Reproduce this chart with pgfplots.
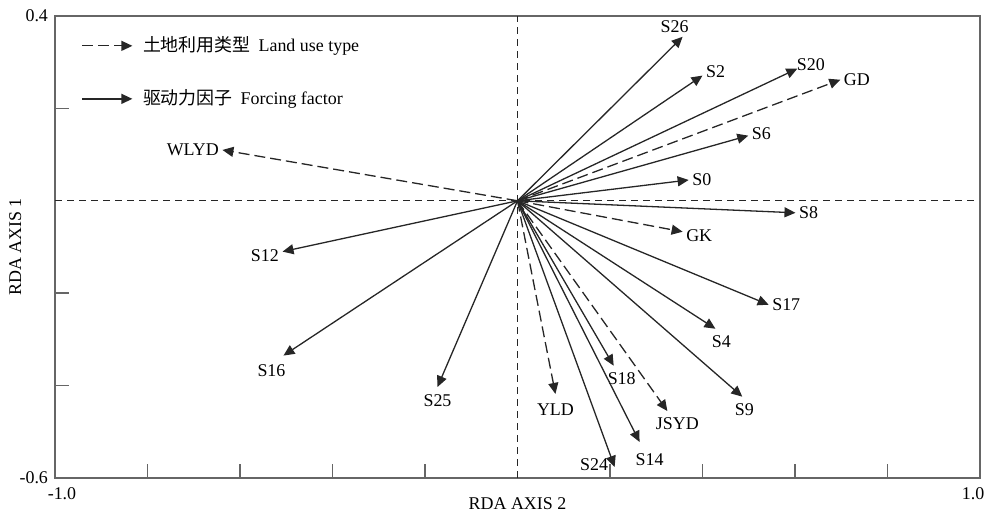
\documentclass[border=0pt]{standalone}
\usepackage{fontspec}
\setmainfont{Liberation Serif}
\newfontfamily\cjk{Noto Sans CJK SC}
\usepackage{pgfplots}
\pgfplotsset{compat=1.18}
\usetikzlibrary{arrows.meta}

\tikzset{
 forc/.style={line width=0.65bp, black!85, -{Triangle[length=5.5bp,width=5bp]}},
 land/.style={forc, dash pattern=on 5.5bp off 2.5bp},
 lab/.style={font=\fontsize{9}{10}\selectfont, inner sep=1.5bp, text=black}
}

\begin{document}
\begin{tikzpicture}
\useasboundingbox (0,0) rectangle (493.5bp,258bp);
\begin{axis}[
 at={(27.5bp,19bp)}, anchor=south west,
 scale only axis, width=462.5bp, height=231bp,
 xmin=-1, xmax=1, ymin=-0.6, ymax=0.4,
 xtick={-1,-0.8,-0.6,-0.4,-0.2,0.2,0.4,0.6,0.8,1},
 xticklabels={\mbox{\hspace{7bp}-1.0},,,,,,,,,\mbox{1.0\hspace{7bp}}},
 ytick={-0.6,-0.4,-0.2,0.2,0.4},
 yticklabels={\mbox{-0.6},,,,\mbox{0.4}},
 tick align=inside, tick pos=left,
 major tick length=7bp,
 axis line style={black!60, line width=1bp},
 every tick/.style={black!60, line width=0.8bp},
 tick label style={font=\fontsize{9}{10}\selectfont},
 xticklabel style={yshift=-1.5bp},
 xlabel={RDA AXIS 2}, ylabel={RDA AXIS 1},
 label style={font=\fontsize{9}{10}\selectfont},
 xlabel style={at={(axis description cs:0.5,-0.056)}, anchor=center},
 ylabel style={at={(axis description cs:-0.043,0.5)}, anchor=center},
 legend image code/.code={\draw[#1] (0bp,0bp) -- (25bp,0bp);},
 legend style={at={(axis description cs:0.022,0.973)}, anchor=north west, draw=none, fill=none,
   font=\fontsize{9}{10}\selectfont, row sep=13.5bp},
 legend cell align=left,
 clip=false,
]
\addlegendimage{land}
\addlegendentry{\hspace{3bp}{\cjk 土地利用类型}\hspace{4bp}Land use type}
\addlegendimage{forc}
\addlegendentry{\hspace{3bp}{\cjk 驱动力因子}\hspace{4bp}Forcing factor}

\draw[black!85, line width=0.5bp, dash pattern=on 3.5bp off 2.5bp] (axis cs:0,-0.6) -- (axis cs:0,0.4);
\draw[black!85, line width=0.5bp, dash pattern=on 3.5bp off 2.5bp] (axis cs:-1,0) -- (axis cs:0.99,0);

% land use types (dashed)
\addplot[land, forget plot] coordinates {(0,0) (0.698,0.262)} node[pos=1, lab, anchor=west]{GD};
\addplot[land, forget plot] coordinates {(0,0) (0.357,-0.067)} node[pos=1, lab, anchor=west, yshift=-2bp]{GK};
\addplot[land, forget plot] coordinates {(0,0) (0.324,-0.455)} node[pos=1, lab, anchor=north, xshift=5bp, yshift=-1.5bp]{JSYD};
\addplot[land, forget plot] coordinates {(0,0) (0.082,-0.418)} node[pos=1, lab, anchor=north, yshift=-3bp]{YLD};
\addplot[land, forget plot] coordinates {(0,0) (-0.638,0.110)} node[pos=1, lab, anchor=east]{WLYD};

% forcing factors (solid)
\addplot[forc, forget plot] coordinates {(0,0) (0.357,0.355)} node[pos=1, lab, anchor=south, xshift=-4bp]{S26};
\addplot[forc, forget plot] coordinates {(0,0) (0.400,0.271)} node[pos=1, lab, anchor=west, yshift=2bp]{S2};
\addplot[forc, forget plot] coordinates {(0,0) (0.605,0.286)} node[pos=1, lab, anchor=south west, xshift=-2bp, yshift=-3bp]{S20};
\addplot[forc, forget plot] coordinates {(0,0) (0.499,0.141)} node[pos=1, lab, anchor=west, yshift=1bp]{S6};
\addplot[forc, forget plot] coordinates {(0,0) (0.370,0.045)} node[pos=1, lab, anchor=west]{S0};
\addplot[forc, forget plot] coordinates {(0,0) (0.601,-0.026)} node[pos=1, lab, anchor=west]{S8};
\addplot[forc, forget plot] coordinates {(0,0) (0.543,-0.225)} node[pos=1, lab, anchor=west]{S17};
\addplot[forc, forget plot] coordinates {(0,0) (0.428,-0.277)} node[pos=1, lab, anchor=north, xshift=3bp, yshift=-1.5bp]{S4};
\addplot[forc, forget plot] coordinates {(0,0) (0.486,-0.424)} node[pos=1, lab, anchor=north, xshift=1bp, yshift=-1.5bp]{S9};
\addplot[forc, forget plot] coordinates {(0,0) (0.208,-0.357)} node[pos=1, lab, anchor=north, xshift=4bp, yshift=-1.5bp]{S18};
\addplot[forc, forget plot] coordinates {(0,0) (0.264,-0.522)} node[pos=1, lab, anchor=north, xshift=5bp, yshift=-4bp]{S14};
\addplot[forc, forget plot] coordinates {(0,0) (0.210,-0.576)} node[pos=1, lab, anchor=east, yshift=1bp, xshift=-1.5bp]{S24};
\addplot[forc, forget plot] coordinates {(0,0) (-0.173,-0.403)} node[pos=1, lab, anchor=north, yshift=-2bp]{S25};
\addplot[forc, forget plot] coordinates {(0,0) (-0.506,-0.335)} node[pos=1, lab, anchor=north, xshift=-6bp, yshift=-2.5bp]{S16};
\addplot[forc, forget plot] coordinates {(0,0) (-0.508,-0.110)} node[pos=1, lab, anchor=east, yshift=-2bp]{S12};
\end{axis}
\end{tikzpicture}
\end{document}
